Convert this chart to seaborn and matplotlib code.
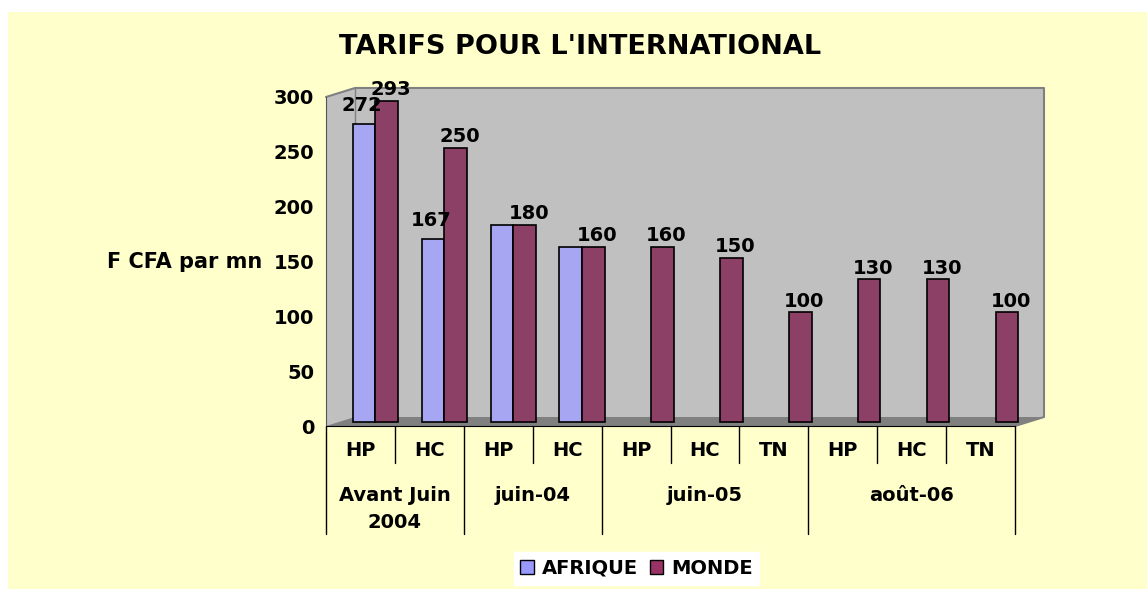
import numpy as np
import pandas as pd
import matplotlib
matplotlib.use("Agg")
import matplotlib.pyplot as plt
import seaborn as sns
from matplotlib.patches import Polygon, Rectangle
from matplotlib.transforms import ScaledTranslation, blended_transform_factory

# data
periods = ["Avant Juin\n2004", "juin-04", "juin-05", "août-06"]
period_sizes = [2, 2, 3, 3]
slots = ["HP", "HC", "HP", "HC", "HP", "HC", "TN", "HP", "HC", "TN"]
afrique = [272, 167, 180, 160, np.nan, np.nan, np.nan, np.nan, np.nan, np.nan]
monde = [293, 250, 180, 160, 160, 150, 100, 130, 130, 100]

zones = ["AFRIQUE", "MONDE"]
colors = {"AFRIQUE": "#9999FF", "MONDE": "#993366"}

df = pd.DataFrame({
    "slot": list(range(len(slots))) * 2,
    "zone": ["AFRIQUE"] * len(slots) + ["MONDE"] * len(slots),
    "tarif": afrique + monde,
}).dropna()

sns.set_style("white")
plt.rcParams["font.family"] = ["DejaVu Sans"]
plt.rcParams["font.weight"] = "bold"
for key in ["text.color", "axes.labelcolor", "xtick.color", "ytick.color"]:
    plt.rcParams[key] = "black"

fig = plt.figure(figsize=(11.47, 5.89), dpi=100, facecolor="white")
fig.patches.append(Rectangle((8 / 1147, 0), 1, 1 - 12 / 589, transform=fig.transFigure,
                             facecolor="#FFFFCC", edgecolor="none", zorder=-10))
ax = fig.add_axes([326 / 1147, 1 - 426 / 589, 689 / 1147, 329 / 589])
ax.set_facecolor("none")

# fake 3D box: side/back wall and floor
dx, dy = 29 / 689, 9 / 329
wall = Polygon([(0, 1), (dx, 1 + dy), (1 + dx, 1 + dy), (1 + dx, dy), (1, 0), (0, 0)],
               closed=True, transform=ax.transAxes, facecolor="#C0C0C0",
               edgecolor="none", clip_on=False, zorder=0.1)
floor = Polygon([(0, 0), (dx, dy), (1 + dx, dy), (1, 0)], closed=True,
                transform=ax.transAxes, facecolor="#808080", edgecolor="none",
                clip_on=False, zorder=0.2)
ax.add_patch(wall)
ax.add_patch(floor)
ax.plot([0, dx, 1 + dx, 1 + dx, 1], [1, 1 + dy, 1 + dy, dy, 0], color="#808080",
        lw=1.5, transform=ax.transAxes, clip_on=False, zorder=0.3)
ax.plot([dx, dx], [dy, 1 + dy], color="#808080", lw=1, transform=ax.transAxes,
        clip_on=False, zorder=0.3)

sns.barplot(data=df, x="slot", y="tarif", hue="zone", hue_order=zones,
            order=list(range(len(slots))), palette=colors, width=0.66,
            edgecolor="black", linewidth=1.2, errorbar=None, ax=ax, zorder=2)

# push bars to mid depth of the box
shift = ScaledTranslation(15 / 100, 4 / 100, fig.dpi_scale_trans)
for cont in ax.containers:
    for p in cont:
        p.set_transform(ax.transData + shift)
        p.set_clip_on(False)

# value labels (AFRIQUE only where it differs from MONDE)
for zone, cont, nudge, lift in zip(zones, ax.containers, [9.3, 13.7], [16, 11]):
    for bar in cont:
        h = bar.get_height()
        if np.isnan(h):
            continue
        i = int(round(bar.get_x() + bar.get_width() / 2))
        if zone == "AFRIQUE" and afrique[i] == monde[i]:
            continue
        ax.annotate(f"{h:.0f}", (bar.get_x() + bar.get_width() / 2, h),
                    xytext=(nudge, lift), textcoords="offset points",
                    ha="center", va="center", fontsize=14, fontweight="bold",
                    zorder=5)

ax.set_ylim(0, 300)
ax.set_xlim(-0.5, len(slots) - 0.5)
ax.set_yticks(range(0, 301, 50))
ax.tick_params(axis="y", direction="out", length=7, width=1, labelsize=14, pad=1.5)
ax.set_xticks(range(len(slots)), labels=slots)
ax.tick_params(axis="x", length=0, labelsize=14, pad=11)
for sp in ["top", "right"]:
    ax.spines[sp].set_visible(False)
ax.spines["left"].set_color("#555555")
ax.spines["bottom"].set_color("black")
ax.spines["bottom"].set_zorder(3)
ax.set_xlabel("")
ax.set_ylabel("F CFA par mn", rotation=0, fontsize=15, fontweight="bold",
              ha="right", va="center")
ax.yaxis.set_label_coords(-0.093, 0.5)

# two-level category axis
tr = blended_transform_factory(ax.transData, ax.transAxes)
edges = np.cumsum([0] + period_sizes) - 0.5
for x in np.arange(len(slots) + 1) - 0.5:
    low = -0.328 if x in edges else -0.1125
    ax.plot([x, x], [0, low], color="black", lw=1, transform=tr, clip_on=False)
for name, a, b in zip(periods, edges[:-1], edges[1:]):
    ax.text((a + b) / 2, -0.183, name, transform=tr, ha="center", va="top",
            fontsize=14, fontweight="bold", linespacing=1.5)

ax.legend_.remove()
handles = [Rectangle((0, 0), 1, 1, facecolor=colors[z], edgecolor="black") for z in zones]
fig.legend(handles, zones, loc="center", bbox_to_anchor=(0.555, 0.035), ncol=2,
           frameon=True, facecolor="white", edgecolor="white", framealpha=1,
           fancybox=False, handlelength=0.7, handleheight=0.7, handletextpad=0.4,
           columnspacing=0.6, borderpad=0.35, prop={"size": 14, "weight": "bold"})

fig.text(0.506, 1 - 47 / 589, "TARIFS POUR L'INTERNATIONAL", ha="center",
         va="center", fontsize=19.5, fontweight="bold")

fig.savefig("out.png", dpi=100, facecolor=fig.get_facecolor())
